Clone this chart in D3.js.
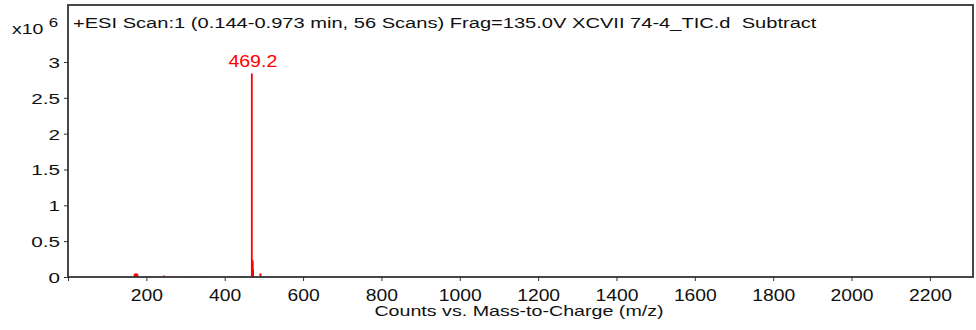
<!DOCTYPE html>
<html>
<head>
<meta charset="utf-8">
<script src="https://cdn.jsdelivr.net/npm/d3@7"></script>
<style>
  html, body { margin: 0; padding: 0; background: #fff; }
  svg { display: block; font-family: "Liberation Sans", Arial, sans-serif; }
</style>
</head>
<body>
<svg id="chart" width="976" height="330"></svg>
<script>
// Centroided peaks: m/z and abundance (counts x10^6)
const peakMz = [170.1, 172.1, 175.1, 177.1, 213.0, 245.1, 302.0, 349.0, 440.0, 448.0, 469.2, 470.2, 471.2, 472.2, 491.2];
const peakCounts = [0.04, 0.05, 0.05, 0.04, 0.01, 0.02, 0.01, 0.01, 0.01, 0.01, 2.84, 0.24, 0.22, 0.10, 0.05];
const labelledPeaks = [469.2];

const xTicks = [0, 200, 400, 600, 800, 1000, 1200, 1400, 1600, 1800, 2000, 2200];
const yTicks = [0, 0.5, 1, 1.5, 2, 2.5, 3];

const titleText = "+ESI Scan:1 (0.144-0.973 min, 56 Scans) Frag=135.0V XCVII 74-4_TIC.d  Subtract";
const xTitle = "Counts vs. Mass-to-Charge (m/z)";

const svg = d3.select("#chart");
const plot = { left: 68, top: 5, right: 973, bottom: 277 };

// The instrument software renders its text slightly wide; reproduce with a horizontal stretch.
function wideText(sel, x, y, sx) {
  return sel.attr("transform", `translate(${x},${y}) scale(${sx},1)`);
}

const x = d3.scaleLinear().domain([0, 2310]).range([plot.left, plot.right]);
const y = d3.scaleLinear().domain([0, 3.795]).range([plot.bottom, plot.top]);

const peaks = peakMz.map((mz, i) => ({ mz, v: peakCounts[i] }));

// Sticks
svg.append("g")
  .selectAll("line")
  .data(peaks)
  .join("line")
  .attr("x1", d => x(d.mz)).attr("x2", d => x(d.mz))
  .attr("y1", y(0)).attr("y2", d => y(d.v))
  .attr("stroke", "#ff0000")
  .attr("stroke-width", d => d.v > 1 ? 1.8 : 2);

// Peak labels
svg.append("g")
  .selectAll("text")
  .data(peaks.filter(d => labelledPeaks.includes(d.mz)))
  .join("text")
  .each(function (d) { wideText(d3.select(this), x(d.mz) + 1, y(d.v) - 6, 1.15); })
  .attr("text-anchor", "middle")
  .attr("fill", "#ff0000")
  .attr("font-size", 17)
  .text(d => d.mz.toFixed(1));

// Axes
const xAxis = d3.axisBottom(x).tickValues(xTicks).tickSize(4).tickSizeOuter(0)
  .tickFormat(d => d === 0 ? "" : d);
const gx = svg.append("g").attr("transform", `translate(0,${plot.bottom})`).call(xAxis);
gx.select(".domain").remove();
gx.selectAll("line").attr("stroke", "#333");
gx.selectAll("text").attr("font-size", 16.5).attr("fill", "#111")
  .attr("y", null).attr("dy", null)
  .attr("transform", "translate(0,23.5) scale(1.17,1)");

const yAxis = d3.axisLeft(y).tickValues(yTicks).tickSize(4).tickSizeOuter(0)
  .tickFormat(d3.format("~g"));
const gy = svg.append("g").attr("transform", `translate(${plot.left},0)`).call(yAxis);
gy.select(".domain").remove();
gy.selectAll("line").attr("stroke", "#333");
gy.selectAll("text").attr("font-size", 15).attr("fill", "#111")
  .attr("x", null).attr("dy", "0.36em")
  .attr("transform", "translate(-8,0) scale(1.38,1)");

// Frame
svg.append("rect")
  .attr("x", plot.left).attr("y", plot.top)
  .attr("width", plot.right - plot.left).attr("height", plot.bottom - plot.top)
  .attr("fill", "none").attr("stroke", "#333").attr("stroke-width", 1.8);

// Scale multiplier
const mult = wideText(svg.append("text"), 12, 34, 1.3).attr("font-size", 15).attr("fill", "#111");
mult.append("tspan").text("x10 ");
mult.append("tspan").attr("dy", -7).attr("font-size", 13).text("6");

// Scan description
wideText(svg.append("text"), 73, 28, 1.34).attr("font-size", 15).attr("fill", "#111")
  .attr("xml:space", "preserve").style("white-space", "pre").text(titleText);

// X axis title
wideText(svg.append("text"), 519, 316, 1.31).attr("text-anchor", "middle")
  .attr("font-size", 15).attr("fill", "#111").text(xTitle);
</script>
</body>
</html>
